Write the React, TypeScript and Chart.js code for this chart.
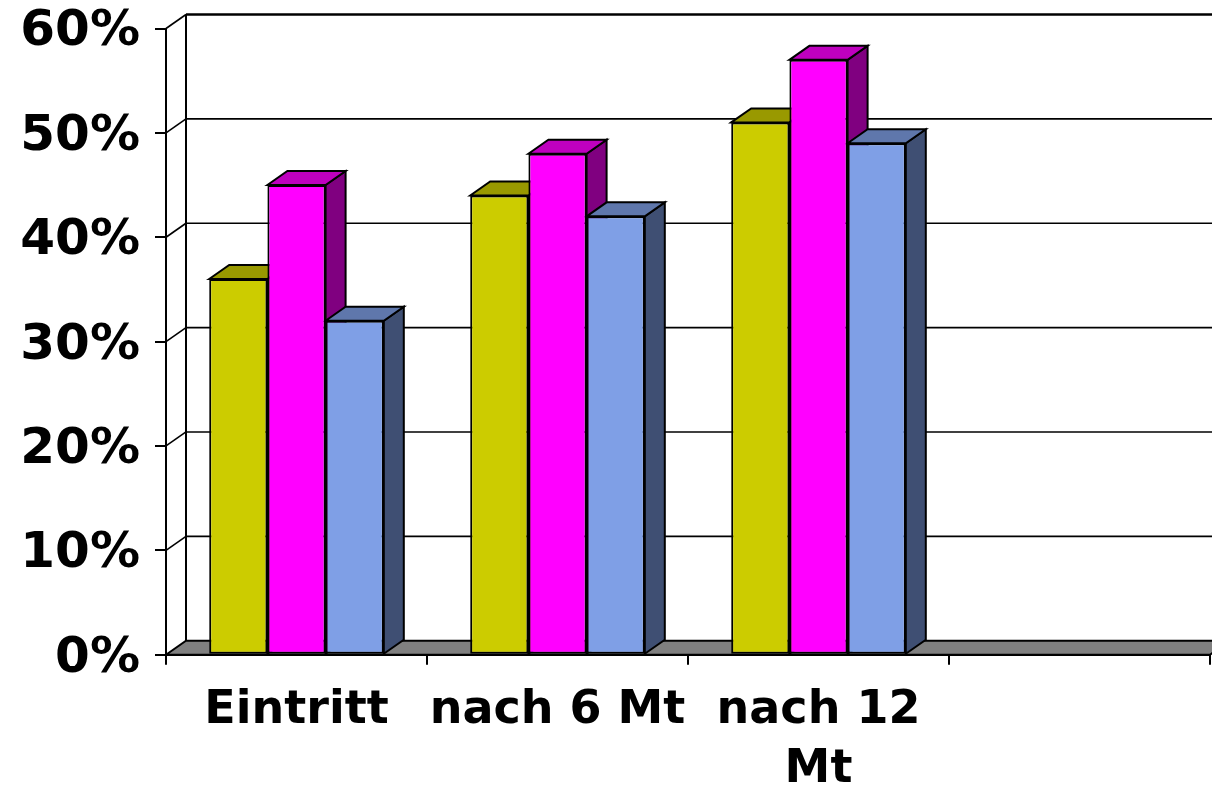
import React, { useEffect, useRef } from "react";
import { Chart, registerables } from "chart.js";

Chart.register(...registerables);

const categories: (string | string[])[] = ["Eintritt", "nach 6 Mt", ["nach 12", "Mt"], ""];
const seriesA = [36, 44, 51, null];
const seriesB = [45, 48, 57, null];
const seriesC = [32, 42, 49, null];
const seriesNames = ["A", "B", "C"];
const yTicks = { min: 0, max: 60, step: 10 };

const frontColors = ["#CCCC00", "#FF00FF", "#7F9FE6"];
const topColors = ["#999900", "#BF00BF", "#5F77AC"];
const sideColors = ["#666600", "#800080", "#3F4F73"];

const DEPTH_X = 20;
const DEPTH_Y = -14;
const FONT = "'DejaVu Sans'";

const poly = (ctx: CanvasRenderingContext2D, pts: number[][], fill: string | null, lw = 2) => {
  ctx.beginPath();
  pts.forEach((p, i) => (i ? ctx.lineTo(p[0], p[1]) : ctx.moveTo(p[0], p[1])));
  ctx.closePath();
  if (fill) {
    ctx.fillStyle = fill;
    ctx.fill();
  }
  ctx.lineWidth = lw;
  ctx.strokeStyle = "#000";
  ctx.lineJoin = "miter";
  ctx.stroke();
};

const depthPlugin = {
  id: "depth",
  beforeDatasetsDraw(chart: any) {
    const { ctx, chartArea, scales, width } = chart;
    const { left, bottom, right } = chartArea;
    const y = scales.y;
    ctx.save();
    // floor
    poly(
      ctx,
      [
        [left, bottom],
        [left + DEPTH_X, bottom + DEPTH_Y],
        [right + DEPTH_X, bottom + DEPTH_Y],
        [right, bottom],
      ],
      "#808080"
    );
    // wall grid lines
    ctx.strokeStyle = "#000";
    y.ticks.forEach((t: any) => {
      const py = y.getPixelForValue(t.value);
      const isTop = t.value === yTicks.max;
      const isBase = t.value === yTicks.min;
      if (isBase) return;
      ctx.lineWidth = 1.6;
      ctx.beginPath();
      ctx.moveTo(left, py);
      ctx.lineTo(left + DEPTH_X, py + DEPTH_Y);
      ctx.stroke();
      ctx.lineWidth = isTop ? 2.4 : 1.6;
      ctx.beginPath();
      ctx.moveTo(left + DEPTH_X, py + DEPTH_Y);
      ctx.lineTo(width, py + DEPTH_Y);
      ctx.stroke();
    });
    ctx.lineWidth = 2;
    ctx.beginPath();
    ctx.moveTo(left + DEPTH_X, y.getPixelForValue(yTicks.max) + DEPTH_Y);
    ctx.lineTo(left + DEPTH_X, bottom + DEPTH_Y);
    ctx.stroke();
    // bar side and top faces
    chart.data.datasets.forEach((ds: any, di: number) => {
      chart.getDatasetMeta(di).data.forEach((bar: any, index: number) => {
        if (ds.data[index] == null) return;
        const { x, y: top, base, width: w } = bar.getProps(["x", "y", "base", "width"], true);
        const l = x - w / 2;
        const r = x + w / 2;
        poly(
          ctx,
          [
            [r, base],
            [r + DEPTH_X, base + DEPTH_Y],
            [r + DEPTH_X, top + DEPTH_Y],
            [r, top],
          ],
          sideColors[di]
        );
        poly(
          ctx,
          [
            [l, top],
            [l + DEPTH_X, top + DEPTH_Y],
            [r + DEPTH_X, top + DEPTH_Y],
            [r, top],
          ],
          topColors[di]
        );
      });
    });
    ctx.restore();
  },
};

export default function App() {
  const ref = useRef<HTMLCanvasElement>(null);
  useEffect(() => {
    const chart = new Chart(ref.current as HTMLCanvasElement, {
      type: "bar",
      data: {
        labels: categories as any,
        datasets: [seriesA, seriesB, seriesC].map((values, i) => ({
          label: seriesNames[i],
          data: values as any,
          backgroundColor: frontColors[i],
          borderColor: "#000",
          borderWidth: 2,
          borderSkipped: false,
          categoryPercentage: 0.669,
          barPercentage: 1,
        })),
      },
      options: {
        responsive: false,
        animation: false,
        layout: { padding: { top: 28.5, right: 2, left: 0, bottom: 0 } },
        plugins: { legend: { display: false }, tooltip: { enabled: false } },
        scales: {
          x: {
            afterFit: (s: any) => {
              s.height = 131.3;
            },
            grid: { drawOnChartArea: false, drawTicks: true, tickLength: 10, color: "#000", lineWidth: 2 },
            border: { display: true, color: "#000", width: 2 },
            ticks: {
              autoSkip: false,
              maxRotation: 0,
              minRotation: 0,
              padding: 17,
              color: "#000",
              font: { family: FONT, weight: "bold", size: 46, lineHeight: 1.28 },
            },
          },
          y: {
            min: yTicks.min,
            max: yTicks.max,
            afterFit: (s: any) => {
              s.width = 166;
              s.paddingTop = 0;
              s.paddingBottom = 0;
            },
            grid: { drawOnChartArea: false, drawTicks: true, tickLength: 11, color: "#000", lineWidth: 2 },
            border: { display: true, color: "#000", width: 2 },
            ticks: {
              stepSize: yTicks.step,
              padding: 15,
              labelOffset: 4,
              color: "#000",
              font: { family: FONT, weight: "bold", size: 50 },
              callback: (v: any) => `${v}%`,
            },
          },
        },
      },
      plugins: [depthPlugin as any],
    });
    return () => chart.destroy();
  }, []);
  return (
    <canvas
      ref={ref}
      width={1212}
      height={786}
      style={{ position: "absolute", left: 0, top: 0, display: "block" }}
    />
  );
}
